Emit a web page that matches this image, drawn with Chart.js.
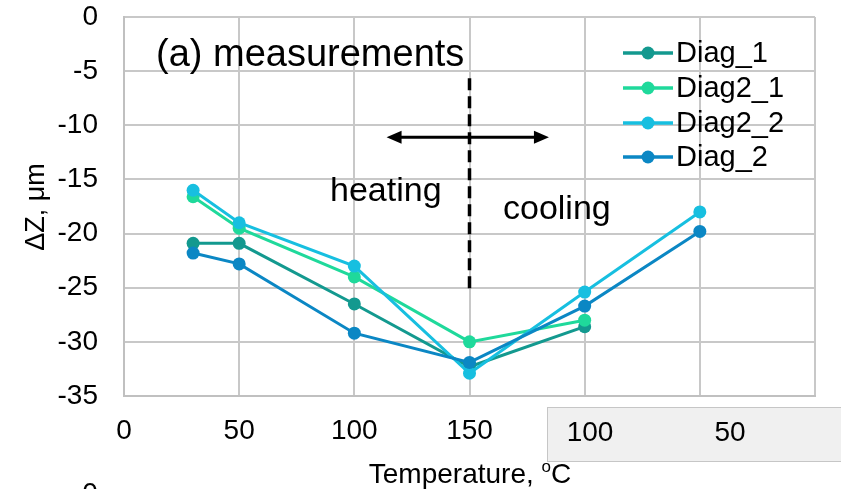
<!DOCTYPE html>
<html>
<head>
<meta charset="utf-8">
<script src="https://cdn.jsdelivr.net/npm/chart.js@4/dist/chart.umd.min.js"></script>
<style>
  html, body { margin: 0; padding: 0; background: #fff; }
  #wrap { width: 841px; height: 489px; }
</style>
</head>
<body>
<div id="wrap"><canvas id="myChart"></canvas></div>
<script>
const FONT = "'Liberation Sans', Arial, sans-serif";

// x positions: heating 30..150, then cooling back down (200 -> 100 °C, 250 -> 50 °C)
const xPos = [30, 50, 100, 150, 200, 250];
const seriesNames = ["Diag_1", "Diag2_1", "Diag2_2", "Diag_2"];
const colors = ["#13998f", "#1fd99b", "#17bfe0", "#0b87c4"];
const diag1 = [-20.9, -20.9, -26.5, -32.3, -28.6];
const diag2_1 = [-16.6, -19.5, -24.0, -30.0, -28.0];
const diag2_2 = [-16.0, -19.0, -23.0, -32.9, -25.4, -18.0];
const diag2 = [-21.8, -22.8, -29.2, -31.9, -26.7, -19.8];
const yTicks = [0, -5, -10, -15, -20, -25, -30, -35];
const xTickLabels = ["0", "50", "100", "150", "", "", ""];
const coolingLabels = ["100", "50"];

const seriesValues = [diag1, diag2_1, diag2_2, diag2];

const ctx = document.getElementById("myChart");

const overlay = {
  id: "overlay",
  afterDatasetsDraw(chart) {
    const c = chart.ctx;
    const xs = chart.scales.x;
    const ys = chart.scales.y;
    c.save();
    // heating / cooling divider
    c.strokeStyle = "#000";
    c.lineWidth = 3.5;
    c.setLineDash([12, 6]);
    c.beginPath();
    c.moveTo(xs.getPixelForValue(150), ys.getPixelForValue(-5.65));
    c.lineTo(xs.getPixelForValue(150), ys.getPixelForValue(-25.2));
    c.stroke();
    c.setLineDash([]);

    // double-headed arrow
    const ay = ys.getPixelForValue(-11.1);
    const ax1 = xs.getPixelForValue(114);
    const ax2 = xs.getPixelForValue(184.5);
    c.lineWidth = 3;
    c.beginPath();
    c.moveTo(ax1 + 10, ay);
    c.lineTo(ax2 - 10, ay);
    c.stroke();
    c.fillStyle = "#000";
    c.beginPath();
    c.moveTo(ax1, ay); c.lineTo(ax1 + 15, ay - 6.5); c.lineTo(ax1 + 15, ay + 6.5);
    c.closePath(); c.fill();
    c.beginPath();
    c.moveTo(ax2, ay); c.lineTo(ax2 - 15, ay - 6.5); c.lineTo(ax2 - 15, ay + 6.5);
    c.closePath(); c.fill();
    c.restore();
  },
  afterDraw(chart) {
    const c = chart.ctx;
    c.save();
    c.fillStyle = "#000";
    c.textBaseline = "alphabetic";
    c.textAlign = "left";

    c.font = "38px " + FONT;
    c.fillText("(a) measurements", 156, 66);
    c.font = "34px " + FONT;
    c.fillText("heating", 330, 201);
    c.fillText("cooling", 503, 219);

    // legend
    const rowY = [53, 88, 123, 157];
    c.font = "29px " + FONT;
    c.textBaseline = "middle";
    seriesNames.forEach((name, i) => {
      c.strokeStyle = colors[i];
      c.lineWidth = 3.5;
      c.beginPath();
      c.moveTo(623, rowY[i]);
      c.lineTo(673, rowY[i]);
      c.stroke();
      c.fillStyle = colors[i];
      c.beginPath();
      c.arc(648, rowY[i], 6.5, 0, Math.PI * 2);
      c.fill();
      c.fillStyle = "#000";
      c.fillText(name, 676, rowY[i] + 1);
    });

    // cooling temperature labels on a grey strip
    c.fillStyle = "#f0f0f0";
    c.fillRect(547.5, 407.5, 300, 54);
    c.strokeStyle = "#c6c6c6";
    c.lineWidth = 1;
    c.strokeRect(547.5, 407.5, 300, 54);
    c.fillStyle = "#000";
    c.font = "28px " + FONT;
    c.textAlign = "center";
    c.fillText(coolingLabels[0], 590, 433);
    c.fillText(coolingLabels[1], 730, 433);

    // axis titles
    c.textAlign = "left";
    c.textBaseline = "alphabetic";
    c.font = "28px " + FONT;
    const t1 = "Temperature, ";
    const w1 = c.measureText(t1).width;
    c.font = "17px " + FONT;
    const wo = c.measureText("o").width;
    c.font = "28px " + FONT;
    const wc = c.measureText("C").width;
    let tx = 470 - (w1 + wo + wc) / 2;
    c.fillText(t1, tx, 483);
    c.font = "17px " + FONT;
    c.fillText("o", tx + w1, 472);
    c.font = "28px " + FONT;
    c.fillText("C", tx + w1 + wo, 483);

    c.translate(37, 207);
    c.rotate(-Math.PI / 2);
    c.textAlign = "center";
    c.textBaseline = "middle";
    c.font = "27px " + FONT;
    c.fillText("\u0394Z, \u03bcm", 0, 0);
    c.restore();

    // axis label peeking in from the panel below
    c.save();
    c.font = "28px " + FONT;
    c.fillStyle = "#000";
    c.textAlign = "center";
    c.fillText("0", 90, 502);
    c.restore();
  }
};

new Chart(ctx, {
  type: "line",
  data: {
    datasets: seriesNames.map((name, i) => ({
      label: name,
      data: seriesValues[i].map((v, j) => ({ x: xPos[j], y: v })),
      borderColor: colors[i],
      backgroundColor: colors[i],
      borderWidth: 3,
      pointRadius: 6.5,
      pointHoverRadius: 6.5,
      pointBorderWidth: 0,
      tension: 0,
      order: seriesNames.length - i,
    })),
  },
  options: {
    responsive: true,
    maintainAspectRatio: false,
    animation: false,
    layout: { padding: { top: 0, right: 26, left: 0, bottom: 0 } },
    plugins: {
      legend: { display: false },
      tooltip: { enabled: false },
    },
    scales: {
      x: {
        type: "linear",
        min: 0,
        max: 300,
        afterFit(scale) { scale.height = 93; },
        afterBuildTicks(scale) {
          scale.ticks = xTickLabels.map((_, i) => ({ value: i * 50 }));
        },
        ticks: {
          padding: 18,
          maxRotation: 0,
          autoSkip: false,
          color: "#000",
          font: { family: FONT, size: 28 },
          callback: (v, i) => xTickLabels[i],
        },
        grid: { color: "#c8c8c8", lineWidth: 2, drawTicks: false },
        border: { color: "#c0c0c0", width: 2 },
      },
      y: {
        min: -35,
        max: 0,
        afterFit(scale) { scale.width = 124; scale.paddingTop = 17; },
        afterBuildTicks(scale) {
          scale.ticks = yTicks.map((v) => ({ value: v }));
        },
        ticks: {
          padding: 26,
          color: "#000",
          font: { family: FONT, size: 28, lineHeight: 1.2 },
        },
        grid: { color: "#c8c8c8", lineWidth: 2, drawTicks: false },
        border: { color: "#c0c0c0", width: 2 },
      },
    },
  },
  plugins: [overlay],
});
</script>
</body>
</html>
